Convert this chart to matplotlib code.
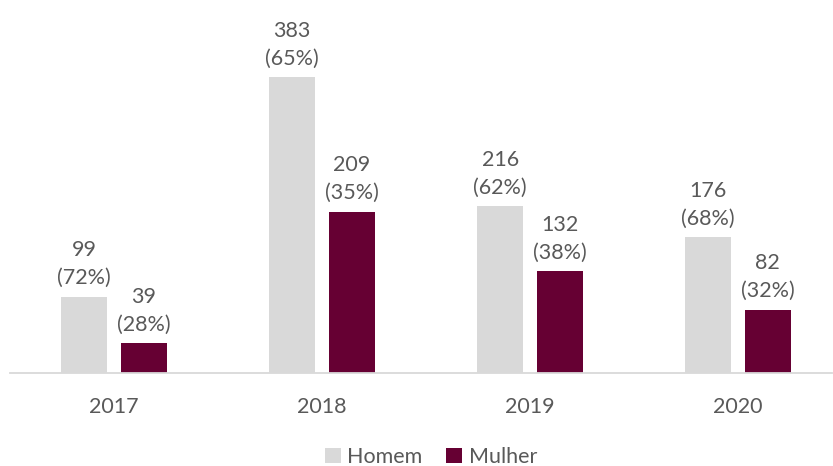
import matplotlib
matplotlib.use("Agg")
import matplotlib.pyplot as plt
import numpy as np

years = ["2017", "2018", "2019", "2020"]
homem = [99, 383, 216, 176]
mulher = [39, 209, 132, 82]
homem_pct = ["72%", "65%", "62%", "68%"]
mulher_pct = ["28%", "35%", "38%", "32%"]

plt.rcParams['font.family'] = ['Lato', 'DejaVu Sans']
txt = "#595959"
c_h = "#D9D9D9"
c_m = "#660033"

W, H = 833, 466
fig = plt.figure(figsize=(W/100, H/100), dpi=100)
ax = fig.add_axes([10/W, 93/H, 822/W, 309/H])

x = np.arange(len(years))
bw = 0.221
off = 0.143
bh = ax.bar(x - off, homem, bw, color=c_h, label="Homem")
bm = ax.bar(x + off, mulher, bw, color=c_m, label="Mulher")

fs = 15.5
for i in range(len(years)):
    ax.annotate(f"{homem[i]}\n({homem_pct[i]})", (x[i] - off, homem[i]), xytext=(0, 6),
                textcoords="offset points", ha="center", va="bottom", fontsize=fs,
                color=txt, linespacing=1.5)
    ax.annotate(f"{mulher[i]}\n({mulher_pct[i]})", (x[i] + off, mulher[i]), xytext=(0, 6),
                textcoords="offset points", ha="center", va="bottom", fontsize=fs,
                color=txt, linespacing=1.5)

ax.set_xlim(-0.5, -0.5 + 822/208)
ax.set_ylim(0, 400)
ax.set_xticks(x)
ax.set_xticklabels(years, fontsize=fs, color=txt)
ax.tick_params(axis='x', length=0, pad=17)
ax.set_yticks([])
for s in ["top", "right", "left"]:
    ax.spines[s].set_visible(False)
ax.spines["bottom"].set_color("#D9D9D9")
ax.spines["bottom"].set_linewidth(1.3)

leg = fig.legend(handles=[bh, bm], labels=["Homem", "Mulher"], loc="center",
                 bbox_to_anchor=(431/W, 1 - 457/H), ncol=2, frameon=False,
                 fontsize=fs, handlelength=0.75, handleheight=0.75, handletextpad=0.3,
                 columnspacing=1.1)
for t in leg.get_texts():
    t.set_color(txt)

fig.savefig("out.png", dpi=100)
